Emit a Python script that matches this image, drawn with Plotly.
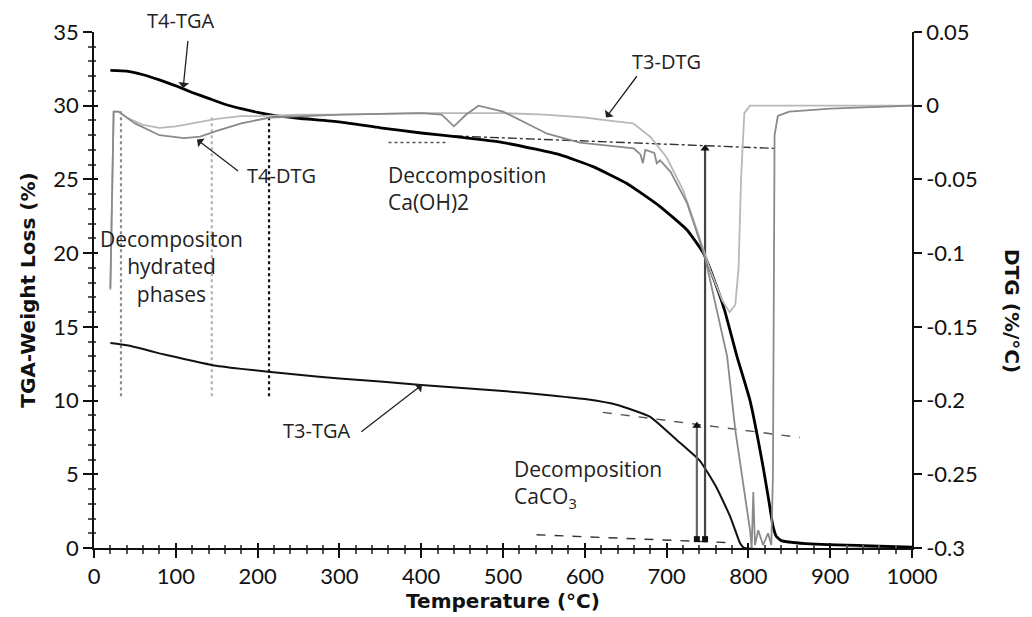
import plotly.graph_objects as go

# ---------------- data ----------------
t4_tga_t = [20, 40, 60, 80, 100, 120, 140, 160, 180, 200, 220, 250, 300, 350, 400, 450, 500, 540, 570, 610, 651,
            692, 725, 745, 760, 771, 786, 802, 818, 825, 830, 834, 840, 870, 950, 1000]
t4_tga_v = [32.4, 32.35, 32.1, 31.75, 31.35, 30.9, 30.5, 30.1, 29.8, 29.55, 29.35, 29.15, 28.9, 28.5, 28.15, 27.85,
            27.5, 27.05, 26.66, 25.87, 24.74, 23.16, 21.57, 20.0, 17.9, 16.1, 13.0, 10.0, 5.5, 3.2, 1.5, 0.8, 0.5,
            0.3, 0.15, 0.05]

t3_tga_t = [20, 40, 60, 80, 100, 120, 145, 180, 213, 250, 300, 350, 400, 450, 500, 550, 600, 640, 680, 713, 741,
            761, 778, 790, 795, 1000]
t3_tga_v = [13.9, 13.75, 13.5, 13.2, 12.95, 12.7, 12.4, 12.15, 11.95, 11.75, 11.5, 11.3, 11.05, 10.85, 10.65, 10.4,
            10.1, 9.7, 8.9, 7.3, 5.9, 4.1, 2.1, 0.3, 0.0, 0.0]

t3_dtg_t = [20, 24, 30, 40, 60, 80, 100, 120, 150, 180, 200, 250, 300, 400, 500, 550, 600, 627, 659, 680, 700, 720,
            737, 753, 768, 777, 784, 788, 791, 795, 802, 1000]
t3_dtg_v = [-0.125, -0.004, -0.004, -0.008, -0.013, -0.015, -0.014, -0.012, -0.009, -0.007, -0.007, -0.006, -0.006,
            -0.005, -0.005, -0.006, -0.008, -0.010, -0.012, -0.021, -0.035, -0.057, -0.084, -0.111, -0.132, -0.140,
            -0.135, -0.110, -0.050, -0.005, 0.0, 0.0]

t4_dtg_t = [20, 24, 30, 50, 80, 110, 130, 150, 180, 215, 300, 400, 425, 440, 455, 470, 500, 554, 594, 630, 660, 668,
            671, 674, 685, 688, 692, 705, 725, 737, 747, 774, 784, 802, 804, 806, 808, 812, 818, 824, 828, 830, 832,
            836, 850, 900, 1000]
t4_dtg_v = [-0.124, -0.004, -0.004, -0.012, -0.020, -0.022, -0.021, -0.017, -0.012, -0.008, -0.006, -0.005, -0.006,
            -0.014, -0.006, 0.000, -0.004, -0.019, -0.025, -0.027, -0.029, -0.033, -0.039, -0.030, -0.032, -0.039,
            -0.037, -0.045, -0.066, -0.086, -0.103, -0.170, -0.220, -0.288, -0.300, -0.262, -0.298, -0.288, -0.298,
            -0.290, -0.298, -0.250, -0.020, -0.007, -0.004, -0.002, 0.0]

# guide lines (TGA units)
vline_t = [33, 144, 214]
vline_top = [29.7, 29.2, 29.4]
vline_bottom = [10.3, 10.3, 10.3]
vline_color = ["#8c8c8c", "#b4b4b4", "#111111"]

caoh_short_t = [360, 430]
caoh_short_v = [27.5, 27.5]
caoh_long_t = [440, 835]
caoh_long_v = [27.95, 27.1]
caco_up_t = [622, 863]
caco_up_v = [9.2, 7.5]
caco_lo_t = [541, 781]
caco_lo_v = [0.9, 0.35]

arrow_t3_t = 737
arrow_t3_v = [0.6, 8.3]
arrow_t4_t = 747
arrow_t4_v = [0.6, 27.1]

x_ticks = list(range(0, 1001, 100))
y_ticks = list(range(0, 36, 5))
y2_ticks = [0.05, 0.0, -0.05, -0.1, -0.15, -0.2, -0.25, -0.3]
y2_labels = ["0.05", "0", "-0.05", "-0.1", "-0.15", "-0.2", "-0.25", "-0.3"]

FONT = "Lato"
TITLE_FONT = "DejaVu Sans"
ANN_FONT = "Open Sans"
Y_MAX = 35.0

fig = go.Figure()

# guide vertical dotted lines
for t, top, bot, c in zip(vline_t, vline_top, vline_bottom, vline_color):
    fig.add_trace(go.Scatter(x=[t, t], y=[bot, top], mode="lines",
                             line=dict(color=c, width=2.2, dash="dot"), yaxis="y", hoverinfo="skip"))

# tangent / guide dashed lines
for xs, ys, c, d in [(caoh_short_t, caoh_short_v, "#555555", "dot"),
                     (caoh_long_t, caoh_long_v, "#333333", "dashdot"),
                     (caco_up_t, caco_up_v, "#555555", "dash"),
                     (caco_lo_t, caco_lo_v, "#333333", "dash")]:
    fig.add_trace(go.Scatter(x=xs, y=ys, mode="lines", line=dict(color=c, width=1.4, dash=d),
                             yaxis="y", hoverinfo="skip"))

# DTG curves
fig.add_trace(go.Scatter(x=t3_dtg_t, y=t3_dtg_v, mode="lines", name="T3-DTG",
                         line=dict(color="#b8b8b8", width=1.8), yaxis="y2"))
fig.add_trace(go.Scatter(x=t4_dtg_t, y=t4_dtg_v, mode="lines", name="T4-DTG",
                         line=dict(color="#8a8a8a", width=1.8), yaxis="y2"))

# TGA curves
fig.add_trace(go.Scatter(x=t3_tga_t, y=t3_tga_v, mode="lines", name="T3-TGA",
                         line=dict(color="#111111", width=2.0, shape="spline", smoothing=0.4), yaxis="y"))
fig.add_trace(go.Scatter(x=t4_tga_t, y=t4_tga_v, mode="lines", name="T4-TGA",
                         line=dict(color="#000000", width=2.8, shape="spline", smoothing=0.4), yaxis="y"))

# vertical arrows (lines)
for t, vs, c in [(arrow_t3_t, arrow_t3_v, "#666666"), (arrow_t4_t, arrow_t4_v, "#444444")]:
    fig.add_trace(go.Scatter(x=[t, t], y=vs, mode="lines", line=dict(color=c, width=2.2),
                             yaxis="y", hoverinfo="skip"))
    fig.add_trace(go.Scatter(x=[t], y=[vs[0]], mode="markers",
                             marker=dict(symbol="square", size=6, color="#111111"), yaxis="y", hoverinfo="skip"))
    fig.add_trace(go.Scatter(x=[t], y=[vs[1]], mode="markers",
                             marker=dict(symbol="triangle-up", size=8, color="#111111"), yaxis="y", hoverinfo="skip"))

ann = []
def label(x, y, text, xanchor="center", size=21):
    ann.append(dict(x=x, y=y / Y_MAX, xref="x", yref="paper", text=text, showarrow=False, xanchor=xanchor,
                    align=xanchor,
                    yanchor="middle", font=dict(family=ANN_FONT, size=size, color="#222222")))

def pointer(x, y, ax, ay):
    ann.append(dict(x=x, y=y, xref="x", yref="y", ax=ax, ay=ay, axref="x", ayref="y", text="",
                    showarrow=True, arrowhead=1, arrowsize=1.4, arrowwidth=1.3, arrowcolor="#222222"))

label(106, 35.8, "T4-TGA", size=20)
pointer(109, 31.2, 115, 34.5)
label(184, 25.3, "T4-DTG", xanchor="left", size=20)
pointer(126, 27.7, 178, 25.5)
label(700, 33.0, "T3-DTG", size=20)
pointer(626, 29.2, 665, 32.1)
label(315, 8.0, "T3-TGA", xanchor="right", size=20)
pointer(401, 11.06, 325, 7.8)
label(95, 19.1, "Decompositon<br>hydrated<br>phases")
label(357, 24.4, "Deccomposition<br>Ca(OH)2", xanchor="left")
label(511, 4.35, "Decomposition<br>CaCO<sub>3</sub>", xanchor="left")

# right axis title, reading top to bottom
ann.append(dict(x=1.14, y=0.46, xref="paper", yref="paper", text="<b>DTG (%/°C)</b>", showarrow=False,
                textangle=90, font=dict(family=TITLE_FONT, size=20, color="#111111")))

inner_tick = dict(showticklabels=False, showgrid=False, zeroline=False, showline=False)

fig.update_layout(
    width=1032, height=617, margin=dict(l=94, r=120, t=32, b=69),
    paper_bgcolor="white", plot_bgcolor="white", showlegend=False,
    font=dict(family=FONT, color="#111111"),
    annotations=ann,
    xaxis=dict(range=[0, 1000], tickvals=x_ticks, showline=True, linecolor="#111111", linewidth=1.5,
               ticks="outside", ticklen=8, tickwidth=1.5, tickcolor="#111111",
               minor=dict(dtick=20, ticks="outside", ticklen=4, tickcolor="#555555"),
               showgrid=False, zeroline=False, tickfont=dict(size=22),
               title=dict(text="<b>Temperature (°C)</b>", font=dict(family=TITLE_FONT, size=20), standoff=2)),
    yaxis=dict(range=[0, 35], tickvals=y_ticks, showline=True, linecolor="#111111", linewidth=1.5,
               ticks="outside", ticklen=9, tickwidth=1.5, tickcolor="#111111",
               minor=dict(dtick=1, ticks="outside", ticklen=4, tickcolor="#555555"),
               showgrid=False, zeroline=False, tickfont=dict(size=22),
               title=dict(text="<b>TGA-Weight Loss (%)</b>", font=dict(family=TITLE_FONT, size=20), standoff=12)),
    yaxis2=dict(range=[-0.3, 0.05], tickvals=y2_ticks, ticktext=y2_labels, overlaying="y", side="right",
                showline=True, linecolor="#111111", linewidth=1.5, ticks="outside", ticklen=8, tickwidth=1.5,
                tickcolor="#111111", showgrid=False, zeroline=False, tickfont=dict(size=22)),
    xaxis2=dict(range=[0, 1000], tickvals=x_ticks, overlaying="x", anchor="y", side="bottom",
                ticks="inside", ticklen=5, tickwidth=1.5, tickcolor="#111111",
                minor=dict(dtick=20, ticks="inside", ticklen=3, tickcolor="#555555"), **inner_tick),
    yaxis3=dict(range=[0, 35], tickvals=y_ticks, overlaying="y", anchor="x", side="left",
                ticks="inside", ticklen=4, tickwidth=1.5, tickcolor="#111111",
                minor=dict(dtick=1, ticks="inside", ticklen=2, tickcolor="#555555"), **inner_tick),
)
# invisible traces so the inner tick axes are drawn
fig.add_trace(go.Scatter(x=[0], y=[0], xaxis="x2", yaxis="y", mode="markers", marker=dict(opacity=0),
                         hoverinfo="skip"))
fig.add_trace(go.Scatter(x=[0], y=[0], xaxis="x", yaxis="y3", mode="markers", marker=dict(opacity=0),
                         hoverinfo="skip"))

fig.write_html("out.html")
